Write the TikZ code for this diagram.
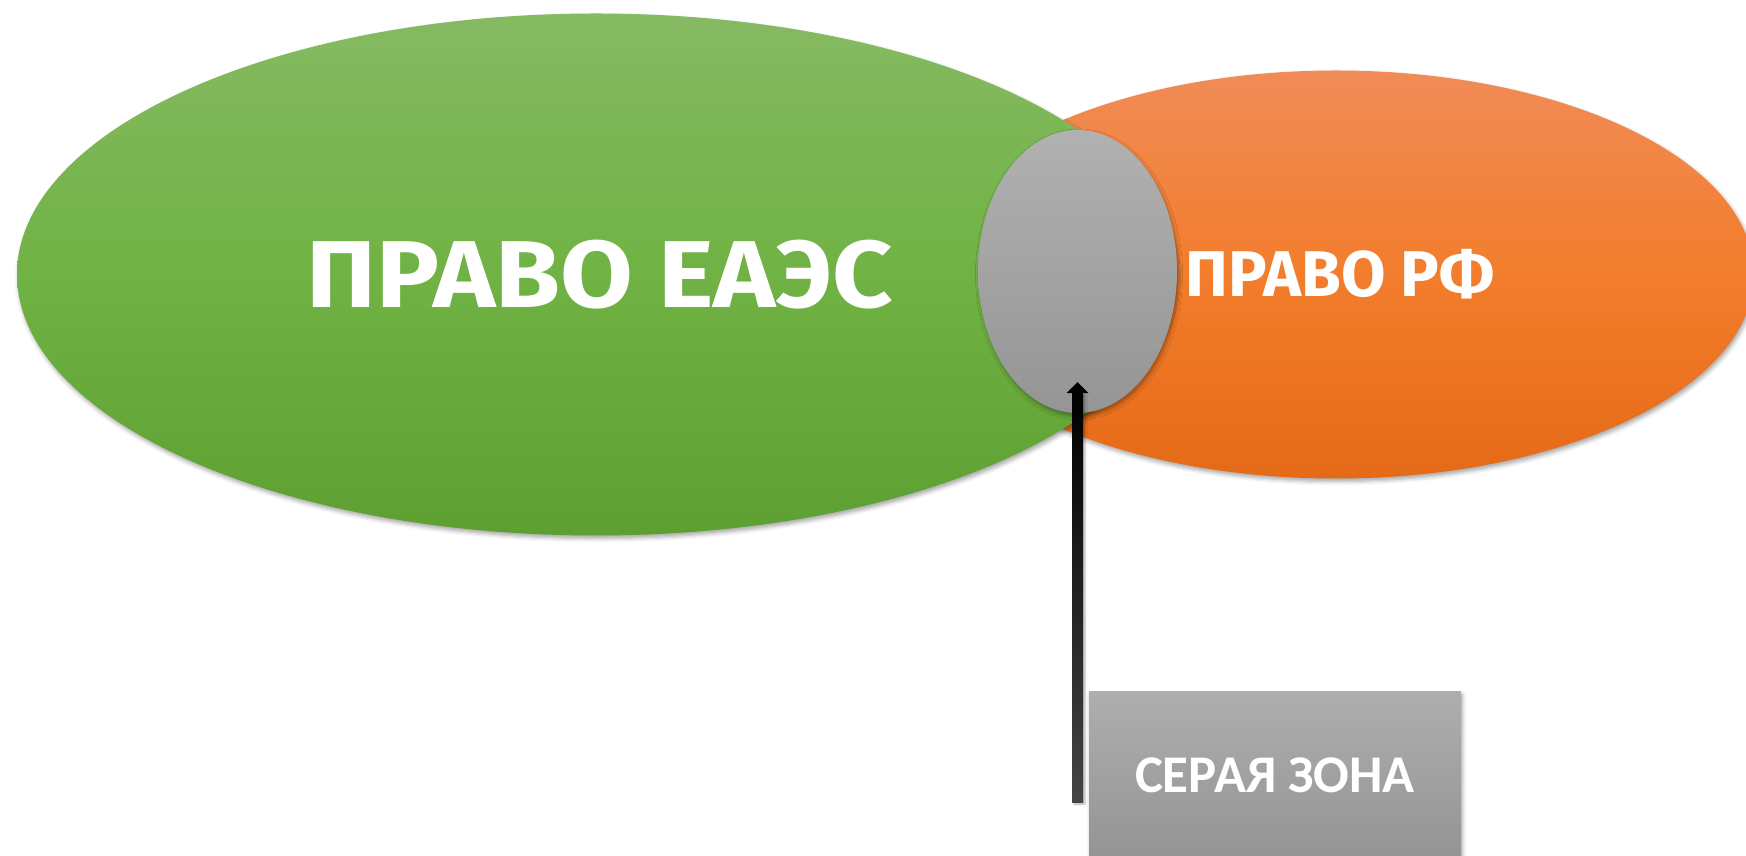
\documentclass[tikz,border=0pt]{standalone}
\usepackage{fontspec}
\setmainfont{Carlito}
\newfontfamily\headfont{Fira Sans}[UprightFont={* Bold}]
\usetikzlibrary{shapes.geometric,shadows.blur,calc}

\definecolor{grTop}{HTML}{86BA63}
\definecolor{grMid}{HTML}{70B244}
\definecolor{grBot}{HTML}{5E9F32}
\definecolor{orTop}{HTML}{F18C57}
\definecolor{orMid}{HTML}{F27D2C}
\definecolor{orBot}{HTML}{E56A17}
\definecolor{zoneTop}{HTML}{B1B1B1}
\definecolor{zoneBot}{HTML}{959595}
\definecolor{boxTop}{HTML}{AEAEAE}
\definecolor{boxBot}{HTML}{949494}
\definecolor{shaftBot}{HTML}{454545}

\begin{document}
\begin{tikzpicture}[x=1pt,y=1pt,
  lawshape/.style={ellipse, inner sep=0pt, text=white},
  softshadow/.style={blur shadow={shadow xshift=1.5pt, shadow yshift=-3pt,
      shadow blur radius=4pt, shadow opacity=35}},
]
\useasboundingbox (0,0) rectangle (1746,856);

% national law (drawn first, partly covered)
\node[lawshape, softshadow, top color=orTop, bottom color=orBot, middle color=orMid,
      minimum width=836pt, minimum height=408pt] (rf) at (1336,581.5)
  {\hspace*{8pt}\resizebox{309pt}{\height}{\headfont\fontsize{64.6}{70}\selectfont ПРАВО РФ}};

% union law
\node[lawshape, softshadow, top color=grTop, bottom color=grBot, middle color=grMid,
      minimum width=1158pt, minimum height=522pt] (eaes) at (596,581.5)
  {\hspace*{8pt}\resizebox{587pt}{\height}{\headfont\fontsize{95}{100}\selectfont ПРАВО ЕАЭС}};

% overlap zone
\node[lawshape, softshadow, top color=zoneTop, bottom color=zoneBot,
      minimum width=199pt, minimum height=283pt] (zone) at (1077.5,584.5) {};

% caption box
\node[rectangle, inner sep=0pt, text=white, softshadow, top color=boxTop, bottom color=boxBot,
      minimum width=372pt, minimum height=166pt] (grey) at (1275,81)
  {\resizebox{280pt}{\height}{\bfseries\fontsize{53}{60}\selectfont СЕРАЯ ЗОНА}};

% pointer into the overlap zone
\coordinate (tail) at ($(zone.south)+(0,-389)$);
\coordinate (tip) at ($(zone.south)+(0,31)$);
\shade[top color=black, bottom color=shaftBot,
       blur shadow={shadow xshift=2pt, shadow yshift=-2pt, shadow blur radius=2pt, shadow opacity=30}]
  ($(tail)+(-5.5,0)$) rectangle ($(tip)+(5.5,-11)$);
\fill[black] (tip) -- ++(-11,-11) -- ++(22,0) -- cycle;
\end{tikzpicture}
\end{document}
